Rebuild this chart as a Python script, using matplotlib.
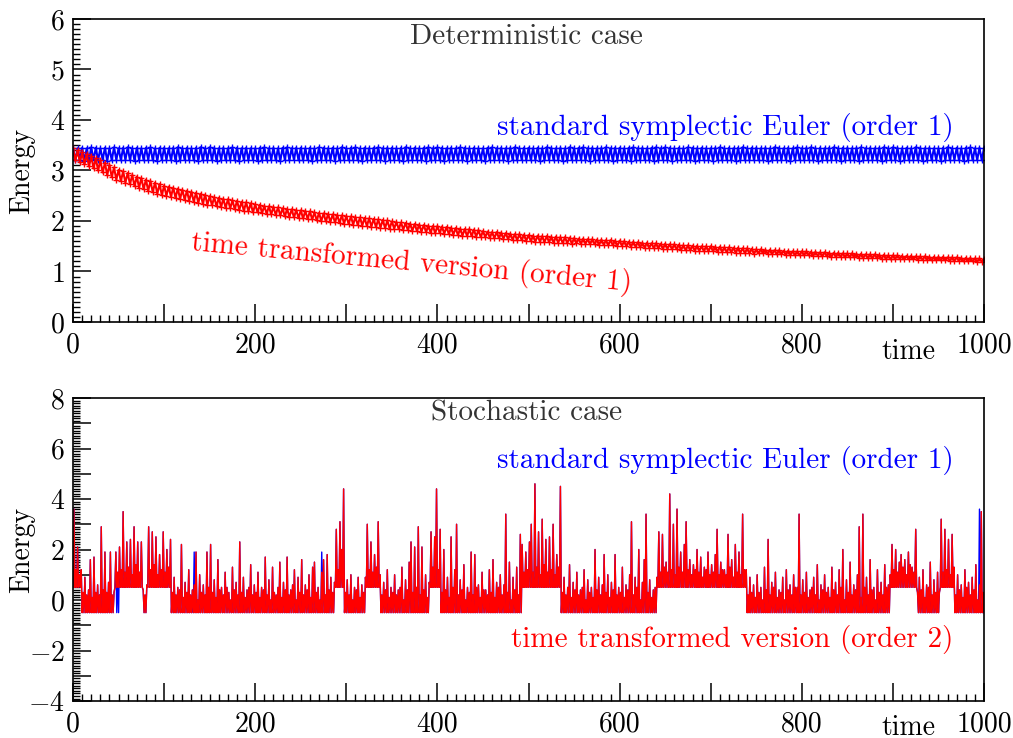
import numpy as np
import matplotlib
matplotlib.use('Agg')
import matplotlib.pyplot as plt
from matplotlib.ticker import MultipleLocator, FuncFormatter

plt.rcParams['font.family'] = ['cmr10', 'DejaVu Serif']
plt.rcParams['mathtext.fontset'] = 'cm'
plt.rcParams['axes.formatter.use_mathtext'] = True

# ---- deterministic case (sampled every 2.5 time units) ----
t_det = np.arange(0, 1000.1, 2.5)

euler_det = [
    3.45, 3.20, 3.44, 3.21, 3.45, 3.19, 3.44, 3.20, 3.46, 3.21, 3.45, 3.20, 3.44, 3.21, 3.45, 3.19, 3.44, 3.20, 3.46, 3.21,
    3.44, 3.20, 3.45, 3.21, 3.46, 3.20, 3.44, 3.19, 3.45, 3.21, 3.44, 3.20, 3.45, 3.21, 3.46, 3.20, 3.44, 3.19, 3.45, 3.21,
    3.45, 3.21, 3.44, 3.20, 3.45, 3.19, 3.46, 3.20, 3.44, 3.21, 3.45, 3.21, 3.44, 3.20, 3.45, 3.19, 3.46, 3.20, 3.44, 3.21,
    3.46, 3.20, 3.45, 3.19, 3.44, 3.21, 3.45, 3.20, 3.44, 3.21, 3.46, 3.20, 3.45, 3.19, 3.44, 3.21, 3.45, 3.20, 3.44, 3.21,
    3.44, 3.19, 3.45, 3.21, 3.46, 3.20, 3.44, 3.21, 3.45, 3.20, 3.44, 3.19, 3.45, 3.21, 3.46, 3.20, 3.44, 3.21, 3.45, 3.20,
    3.45, 3.20, 3.44, 3.21, 3.45, 3.19, 3.44, 3.20, 3.46, 3.21, 3.45, 3.20, 3.44, 3.21, 3.45, 3.19, 3.44, 3.20, 3.46, 3.21,
    3.44, 3.20, 3.45, 3.21, 3.46, 3.20, 3.44, 3.19, 3.45, 3.21, 3.44, 3.20, 3.45, 3.21, 3.46, 3.20, 3.44, 3.19, 3.45, 3.21,
    3.45, 3.21, 3.44, 3.20, 3.45, 3.19, 3.46, 3.20, 3.44, 3.21, 3.45, 3.21, 3.44, 3.20, 3.45, 3.19, 3.46, 3.20, 3.44, 3.21,
    3.46, 3.20, 3.45, 3.19, 3.44, 3.21, 3.45, 3.20, 3.44, 3.21, 3.46, 3.20, 3.45, 3.19, 3.44, 3.21, 3.45, 3.20, 3.44, 3.21,
    3.44, 3.19, 3.45, 3.21, 3.46, 3.20, 3.44, 3.21, 3.45, 3.20, 3.44, 3.19, 3.45, 3.21, 3.46, 3.20, 3.44, 3.21, 3.45, 3.20,
    3.45, 3.20, 3.44, 3.21, 3.45, 3.19, 3.44, 3.20, 3.46, 3.21, 3.45, 3.20, 3.44, 3.21, 3.45, 3.19, 3.44, 3.20, 3.46, 3.21,
    3.44, 3.20, 3.45, 3.21, 3.46, 3.20, 3.44, 3.19, 3.45, 3.21, 3.44, 3.20, 3.45, 3.21, 3.46, 3.20, 3.44, 3.19, 3.45, 3.21,
    3.45, 3.21, 3.44, 3.20, 3.45, 3.19, 3.46, 3.20, 3.44, 3.21, 3.45, 3.21, 3.44, 3.20, 3.45, 3.19, 3.46, 3.20, 3.44, 3.21,
    3.46, 3.20, 3.45, 3.19, 3.44, 3.21, 3.45, 3.20, 3.44, 3.21, 3.46, 3.20, 3.45, 3.19, 3.44, 3.21, 3.45, 3.20, 3.44, 3.21,
    3.44, 3.19, 3.45, 3.21, 3.46, 3.20, 3.44, 3.21, 3.45, 3.20, 3.44, 3.19, 3.45, 3.21, 3.46, 3.20, 3.44, 3.21, 3.45, 3.20,
    3.45, 3.20, 3.44, 3.21, 3.45, 3.19, 3.44, 3.20, 3.46, 3.21, 3.45, 3.20, 3.44, 3.21, 3.45, 3.19, 3.44, 3.20, 3.46, 3.21,
    3.44, 3.20, 3.45, 3.21, 3.46, 3.20, 3.44, 3.19, 3.45, 3.21, 3.44, 3.20, 3.45, 3.21, 3.46, 3.20, 3.44, 3.19, 3.45, 3.21,
    3.45, 3.21, 3.44, 3.20, 3.45, 3.19, 3.46, 3.20, 3.44, 3.21, 3.45, 3.21, 3.44, 3.20, 3.45, 3.19, 3.46, 3.20, 3.44, 3.21,
    3.46, 3.20, 3.45, 3.19, 3.44, 3.21, 3.45, 3.20, 3.44, 3.21, 3.46, 3.20, 3.45, 3.19, 3.44, 3.21, 3.45, 3.20, 3.44, 3.21,
    3.44, 3.19, 3.45, 3.21, 3.46, 3.20, 3.44, 3.21, 3.45, 3.20, 3.44, 3.19, 3.45, 3.21, 3.46, 3.20, 3.44, 3.21, 3.45, 3.20,
    3.45,
]

transformed_det = [
    3.44, 3.20, 3.40, 3.16, 3.36, 3.12, 3.32, 3.08, 3.28, 3.04, 3.24, 3.00, 3.20, 2.96, 3.15, 2.91, 3.11, 2.87, 3.06, 2.82,
    3.01, 2.79, 2.98, 2.76, 2.95, 2.73, 2.91, 2.69, 2.88, 2.66, 2.85, 2.63, 2.82, 2.60, 2.79, 2.57, 2.76, 2.54, 2.73, 2.51,
    2.70, 2.50, 2.68, 2.48, 2.66, 2.46, 2.64, 2.44, 2.62, 2.42, 2.60, 2.40, 2.58, 2.38, 2.56, 2.36, 2.54, 2.34, 2.52, 2.32,
    2.49, 2.31, 2.47, 2.29, 2.46, 2.28, 2.44, 2.26, 2.43, 2.25, 2.41, 2.23, 2.40, 2.22, 2.38, 2.20, 2.37, 2.19, 2.35, 2.17,
    2.33, 2.17, 2.32, 2.16, 2.30, 2.14, 2.29, 2.13, 2.28, 2.12, 2.27, 2.11, 2.25, 2.09, 2.24, 2.08, 2.23, 2.07, 2.22, 2.06,
    2.21, 2.05, 2.20, 2.04, 2.19, 2.03, 2.17, 2.01, 2.16, 2.00, 2.15, 1.99, 2.14, 1.98, 2.13, 1.97, 2.12, 1.96, 2.11, 1.95,
    2.10, 1.94, 2.09, 1.93, 2.08, 1.92, 2.07, 1.91, 2.06, 1.90, 2.05, 1.89, 2.04, 1.88, 2.03, 1.87, 2.02, 1.86, 2.01, 1.85,
    1.99, 1.85, 1.98, 1.84, 1.97, 1.83, 1.96, 1.82, 1.95, 1.81, 1.94, 1.80, 1.93, 1.79, 1.92, 1.78, 1.91, 1.77, 1.90, 1.76,
    1.90, 1.76, 1.89, 1.75, 1.88, 1.74, 1.87, 1.73, 1.86, 1.72, 1.85, 1.71, 1.84, 1.70, 1.84, 1.70, 1.83, 1.69, 1.82, 1.68,
    1.80, 1.68, 1.79, 1.67, 1.78, 1.66, 1.78, 1.66, 1.77, 1.65, 1.76, 1.64, 1.75, 1.63, 1.74, 1.62, 1.74, 1.62, 1.73, 1.61,
    1.72, 1.60, 1.71, 1.59, 1.71, 1.59, 1.70, 1.58, 1.70, 1.58, 1.69, 1.57, 1.69, 1.57, 1.68, 1.56, 1.68, 1.56, 1.67, 1.55,
    1.66, 1.56, 1.65, 1.55, 1.65, 1.55, 1.64, 1.54, 1.64, 1.54, 1.63, 1.53, 1.63, 1.53, 1.62, 1.52, 1.62, 1.52, 1.61, 1.51,
    1.61, 1.51, 1.60, 1.50, 1.59, 1.49, 1.59, 1.49, 1.58, 1.48, 1.57, 1.47, 1.57, 1.47, 1.56, 1.46, 1.56, 1.46, 1.55, 1.45,
    1.55, 1.45, 1.54, 1.44, 1.54, 1.44, 1.53, 1.43, 1.52, 1.42, 1.52, 1.42, 1.51, 1.41, 1.51, 1.41, 1.50, 1.40, 1.50, 1.40,
    1.50, 1.40, 1.49, 1.39, 1.49, 1.39, 1.48, 1.38, 1.48, 1.38, 1.47, 1.37, 1.47, 1.37, 1.46, 1.36, 1.46, 1.36, 1.45, 1.35,
    1.44, 1.36, 1.44, 1.36, 1.43, 1.35, 1.43, 1.35, 1.42, 1.34, 1.42, 1.34, 1.41, 1.33, 1.41, 1.33, 1.40, 1.32, 1.40, 1.32,
    1.40, 1.32, 1.40, 1.32, 1.39, 1.31, 1.39, 1.31, 1.38, 1.30, 1.38, 1.30, 1.37, 1.29, 1.37, 1.29, 1.37, 1.29, 1.36, 1.28,
    1.36, 1.28, 1.36, 1.28, 1.35, 1.27, 1.35, 1.27, 1.34, 1.26, 1.34, 1.26, 1.34, 1.26, 1.33, 1.25, 1.33, 1.25, 1.32, 1.24,
    1.32, 1.25, 1.32, 1.25, 1.31, 1.24, 1.31, 1.24, 1.31, 1.24, 1.30, 1.23, 1.30, 1.23, 1.30, 1.23, 1.29, 1.22, 1.29, 1.22,
    1.29, 1.22, 1.29, 1.22, 1.28, 1.21, 1.28, 1.21, 1.28, 1.21, 1.27, 1.20, 1.27, 1.20, 1.27, 1.20, 1.26, 1.19, 1.26, 1.19,
    1.25,
]

# ---- stochastic case ----
# the trace swings between the bottom of the well and a local maximum;
# minima sit at even times, maxima at odd times
t_sto = np.arange(0, 1001, 1)

# time spans where the energy floor is +0.5 instead of -0.5
upper_well_spans = [(0, 8), (46, 76), (82, 106), (288, 297), (322, 337),
                    (392, 403), (494, 535), (642, 738), (897, 926), (952, 966)]
floor_low, floor_high = -0.5, 0.5

# local maxima at t = 1, 3, 5, ..., 999
sto_peaks = [
    3.6, 1.2, 2.1, 1.0, 1.2, 0.3, 0.9, 0.2, 0.4, 1.6, 0.1, 1.7, 0.3, 0.6, 0.2, 2.9, 0.4, 1.9, 0.3, 0.7, 1.9, 0.2, 0.3, 1.9, 1.1,
    2.1, 1.2, 3.5, 1.1, 2.3, 1.3, 2.4, 1.0, 2.9, 1.4, 2.3, 1.1, 2.3, 0.4, 0.2, 0.6, 2.9, 1.2, 2.7, 1.4, 2.5, 1.0, 1.8, 1.2, 2.7,
    1.1, 2.0, 1.3, 2.4, 0.3, 0.9, 0.2, 0.5, 0.4, 2.2, 0.1, 0.7, 0.3, 1.2, 0.2, 0.4, 0.6, 1.9, 0.0, 1.0, 0.3, 0.6, 0.2, 1.9, 0.5,
    2.2, 0.3, 0.8, 0.1, 1.6, 0.4, 0.5, 0.2, 1.1, 0.5, 0.3, 0.0, 1.3, 0.4, 0.7, 0.2, 2.3, 0.3, 0.9, 0.1, 0.4, 0.5, 1.4, 0.2, 0.6,
    0.3, 1.1, 0.1, 0.5, 0.4, 1.7, 0.2, 0.8, 0.0, 1.3, 0.3, 0.2, 0.5, 1.5, 0.1, 0.7, 0.4, 1.7, 0.2, 0.4, 0.6, 1.2, 0.0, 0.9, 0.3,
    1.6, 0.2, 0.6, 0.4, 1.0, 0.1, 1.3, 1.5, 0.3, 0.5, 0.0, 1.1, 1.6, 0.2, 1.8, 0.4, 0.9, 0.3, 0.7, 2.8, 1.2, 3.1, 2.0, 4.4, 0.3,
    0.8, 0.2, 1.0, 0.0, 0.5, 0.4, 0.9, 0.1, 0.6, 0.3, 0.9, 3.0, 1.2, 2.3, 1.1, 1.8, 1.3, 3.1, 1.0, 0.2, 0.7, 0.4, 1.2, 0.1, 0.5,
    0.3, 1.0, 0.2, 0.4, 0.5, 1.3, 0.0, 0.8, 0.4, 1.5, 2.3, 0.3, 2.1, 0.5, 2.9, 0.2, 2.1, 0.4, 1.0, 0.1, 0.7, 2.7, 1.3, 2.5, 4.4,
    1.2, 2.8, 0.3, 2.0, 0.4, 0.9, 0.1, 2.5, 0.5, 1.2, 3.0, 0.2, 0.8, 0.4, 1.4, 0.0, 0.5, 0.3, 1.9, 0.2, 1.8, 0.5, 0.6, 0.1, 1.1,
    0.4, 0.4, 0.2, 1.2, 0.3, 1.6, 0.1, 0.7, 0.5, 1.0, 0.2, 0.6, 3.4, 0.3, 1.5, 0.0, 0.9, 0.4, 1.3, 0.2, 2.6, 2.2, 1.1, 1.9, 1.2,
    2.3, 3.0, 1.1, 4.6, 1.3, 2.7, 1.0, 3.2, 1.4, 2.4, 1.1, 2.5, 1.2, 3.0, 1.0, 1.8, 1.3, 4.5, 0.3, 0.9, 0.2, 0.5, 1.4, 0.1, 0.7,
    0.4, 1.1, 0.2, 0.4, 0.5, 1.2, 0.0, 0.8, 0.3, 0.5, 0.1, 2.0, 0.4, 0.9, 0.2, 0.6, 1.8, 0.3, 1.0, 0.1, 0.7, 0.4, 1.8, 0.2, 0.5,
    0.3, 1.3, 0.1, 0.6, 0.4, 1.0, 3.1, 0.2, 0.9, 0.5, 2.0, 0.0, 0.7, 1.6, 3.4, 0.3, 0.8, 0.1, 0.4, 0.5, 0.9, 2.7, 1.1, 2.6, 1.3,
    1.5, 1.1, 4.2, 1.2, 3.0, 1.0, 3.6, 1.3, 1.9, 1.1, 2.2, 3.1, 1.2, 1.6, 1.0, 1.4, 1.2, 2.0, 1.1, 1.7, 0.9, 1.3, 1.2, 1.9, 1.0,
    1.4, 1.1, 1.8, 2.8, 1.0, 1.5, 1.2, 1.2, 1.0, 2.6, 1.3, 1.6, 0.9, 2.2, 1.1, 1.9, 1.0, 3.4, 1.2, 1.2, 0.2, 0.9, 0.3, 0.6, 0.1,
    1.0, 0.3, 0.5, 0.0, 1.3, 0.4, 2.4, 0.2, 0.7, 0.5, 1.1, 0.1, 0.4, 0.3, 0.9, 0.0, 1.2, 0.4, 0.6, 0.2, 1.0, 0.5, 0.5, 3.4, 0.2,
    0.8, 0.3, 1.1, 0.1, 0.4, 0.5, 0.9, 0.2, 1.4, 0.0, 0.6, 0.4, 1.0, 0.3, 0.5, 0.1, 1.3, 0.4, 0.7, 0.2, 1.2, 0.5, 2.0, 0.0, 0.8,
    0.3, 1.5, 0.2, 0.6, 0.4, 1.0, 2.9, 0.1, 3.4, 0.5, 0.9, 0.2, 1.6, 0.4, 0.5, 0.0, 1.2, 0.3, 0.7, 0.2, 1.4, 0.5, 0.6, 1.0, 2.2,
    1.2, 2.0, 1.1, 1.5, 1.8, 1.3, 1.6, 1.0, 1.9, 1.4, 1.3, 1.1, 2.8, 0.3, 0.9, 0.4, 1.2, 0.1, 0.6, 0.5, 1.5, 0.2, 0.8, 0.3, 1.1,
    0.3, 3.2, 1.1, 2.8, 1.2, 2.4, 1.0, 2.6, 1.3, 0.2, 1.0, 0.4, 0.6, 0.1, 1.2, 0.5, 0.7, 0.2, 0.9, 0.4, 1.4, 0.0, 0.6, 3.5, 0.3,
]

transformed_sto = []
for t in t_sto:
    if t % 2 == 1:
        transformed_sto.append(sto_peaks[t // 2])
    elif any(a <= t <= b for a, b in upper_well_spans):
        transformed_sto.append(floor_high)
    else:
        transformed_sto.append(floor_low)

# symplectic Euler trace lies under the red one; only these samples differ
euler_sto_diff = {48: -0.5, 50: -0.5, 133: 1.9, 273: 1.9, 995: 3.6}

euler_sto = list(transformed_sto)
for t, v in euler_sto_diff.items():
    euler_sto[t] = v


def style_axes(ax, ymin, ymax, ylabel_every, time_y):
    ax.set_xlim(0, 1000)
    ax.set_ylim(ymin, ymax)
    ax.xaxis.set_major_locator(MultipleLocator(100))
    ax.xaxis.set_minor_locator(MultipleLocator(10))
    ax.yaxis.set_major_locator(MultipleLocator(1))
    ax.yaxis.set_minor_locator(MultipleLocator(0.1))
    ax.xaxis.set_major_formatter(FuncFormatter(
        lambda v, p: '%d' % v if round(v) % 200 == 0 else ''))
    ax.yaxis.set_major_formatter(FuncFormatter(
        lambda v, p: r'$\mathdefault{%d}$' % round(v) if round(v) % ylabel_every == 0 else ''))
    ax.tick_params(which='major', direction='in', length=13, width=1.1,
                   labelsize=20, top=False, right=False, pad=6)
    ax.tick_params(which='minor', direction='in', length=5, width=1.0,
                   top=False, right=False)
    ax.tick_params(axis='x', pad=7)
    for s in ax.spines.values():
        s.set_linewidth(1.2)
    ax.set_ylabel('Energy', fontsize=20)
    ax.yaxis.set_label_coords(-0.042, 0.5)
    ax.text(917, time_y, 'time', fontsize=20,
            ha='center', va='center', clip_on=False)


fig = plt.figure(figsize=(10.13, 7.38), dpi=100)
ax1 = fig.add_axes([0.0721, 0.5637, 0.8993, 0.4106])
ax2 = fig.add_axes([0.0721, 0.0501, 0.8993, 0.4106])

# top panel
ax1.plot(t_det, euler_det, color='blue', lw=1.5, marker='+', ms=4, mew=1.0)
ax1.plot(t_det, transformed_det, color='red', lw=1.5, marker='+', ms=4, mew=1.0)
style_axes(ax1, 0, 6, 1, -0.6)
ax1.text(498, 5.64, 'Deterministic case', fontsize=21, color='#333333',
         ha='center', va='center')
ax1.text(716, 3.86, 'standard symplectic Euler (order 1)', fontsize=21,
         color='blue', ha='center', va='center')
ax1.text(372, 1.17, 'time transformed version (order 1)', fontsize=21,
         color='red', ha='center', va='center', rotation=-5.3,
         rotation_mode='anchor')

# bottom panel
ax2.plot(t_sto, euler_sto, color='blue', lw=1.0)
ax2.plot(t_sto, transformed_sto, color='red', lw=1.0)
style_axes(ax2, -4, 8, 2, -5.05)
ax2.text(498, 7.4, 'Stochastic case', fontsize=21, color='#333333',
         ha='center', va='center')
ax2.text(716, 5.54, 'standard symplectic Euler (order 1)', fontsize=21,
         color='blue', ha='center', va='center')
ax2.text(724, -1.58, 'time transformed version (order 2)', fontsize=21,
         color='red', ha='center', va='center')

fig.savefig('out.png', dpi=100)
